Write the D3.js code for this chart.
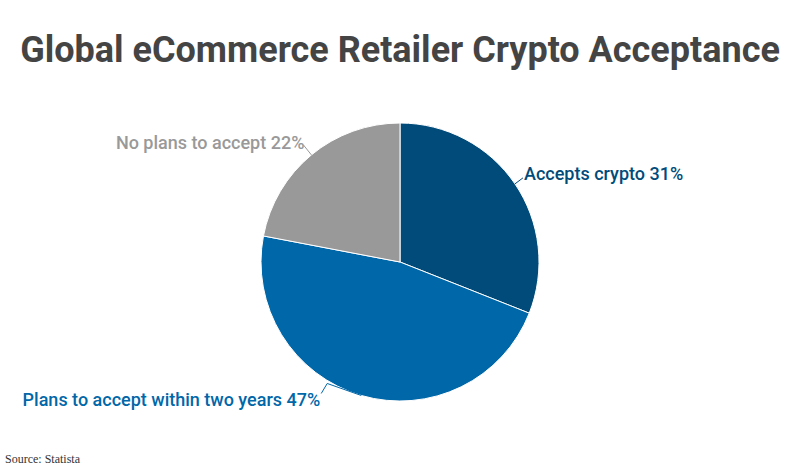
<!DOCTYPE html>
<html>
<head>
<meta charset="utf-8">
<script src="https://cdn.jsdelivr.net/npm/d3@7"></script>
<style>
  body { margin: 0; background: #fff; }
  svg { display: block; }
</style>
</head>
<body>
<div id="chart"></div>
<script>
const categories = ["Accepts crypto", "Plans to accept within two years", "No plans to accept"];
const shares = [31, 47, 22];
const colors = ["#004b7a", "#0067a9", "#999999"];
const labelColors = ["#004b7a", "#0067a9", "#999999"];

const width = 800, height = 473;
const cx = 400, cy = 262, radius = 139;

const svg = d3.select("#chart").append("svg")
    .attr("width", width)
    .attr("height", height);

svg.append("text")
    .attr("x", width / 2)
    .attr("y", 62)
    .attr("text-anchor", "middle")
    .attr("font-family", "Roboto")
    .attr("font-weight", "bold")
    .attr("font-size", 36)
    .attr("fill", "#444")
    .text("Global eCommerce Retailer Crypto Acceptance");

const data = categories.map((c, i) => ({ name: c, value: shares[i], color: colors[i], labelColor: labelColors[i] }));

const pie = d3.pie().sort(null).value(d => d.value);
const arc = d3.arc().innerRadius(0).outerRadius(radius);
const arcs = pie(data);

const g = svg.append("g").attr("transform", `translate(${cx},${cy})`);

g.selectAll("path.slice")
    .data(arcs)
    .join("path")
    .attr("class", "slice")
    .attr("d", arc)
    .attr("fill", d => d.data.color)
    .attr("stroke", "#fff")
    .attr("stroke-width", 1);

// label layout: offsets from the slice edge midpoint (connector bend + text anchor)
const layout = [
    { bend: [[8, -6]], text: [9, -4], anchor: "start" },
    { bend: [[-34, -12], [-40, -2]], text: [-41, 11], anchor: "end" },
    { bend: [[-8, -10]], text: [-7, -6], anchor: "end" }
];

arcs.forEach((d, i) => {
    const mid = (d.startAngle + d.endAngle) / 2;
    const p0 = [Math.sin(mid) * radius, -Math.cos(mid) * radius];
    const L = layout[i];
    const pts = [p0].concat(L.bend.map(b => [p0[0] + b[0], p0[1] + b[1]]));
    g.append("path")
        .attr("d", d3.line()(pts))
        .attr("fill", "none")
        .attr("stroke", d.data.labelColor)
        .attr("stroke-width", 1);
    g.append("text")
        .attr("x", p0[0] + L.text[0])
        .attr("y", p0[1] + L.text[1])
        .attr("text-anchor", L.anchor)
        .attr("font-family", "Roboto")
        .attr("font-weight", 500)
        .attr("font-size", 18)
        .attr("fill", d.data.labelColor)
        .text(`${d.data.name} ${d.data.value}%`);
});

svg.append("text")
    .attr("x", 5)
    .attr("y", 463)
    .attr("font-family", "Liberation Serif")
    .attr("font-size", 12)
    .attr("fill", "#333")
    .text("Source: Statista");
</script>
</body>
</html>
